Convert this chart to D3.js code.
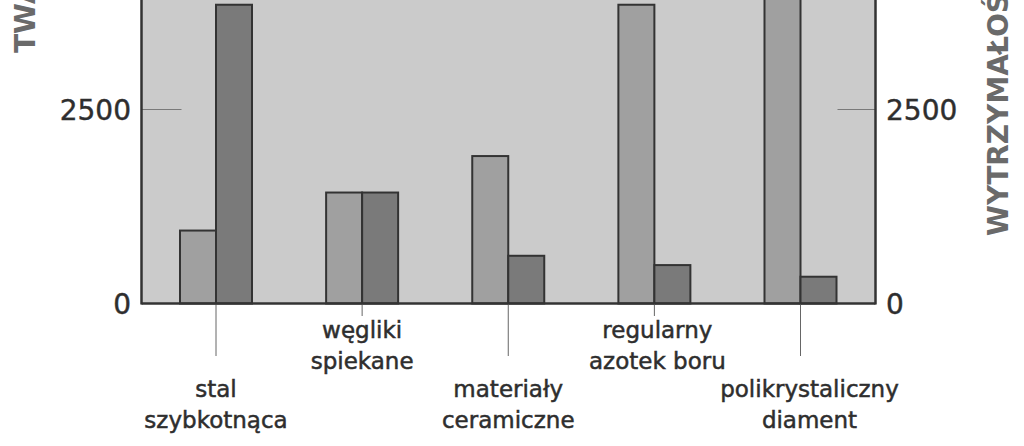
<!DOCTYPE html>
<html><head><meta charset="utf-8">
<script src="https://cdn.jsdelivr.net/npm/d3@7"></script>
<style>body{margin:0;background:#fff}svg{display:block}</style>
</head><body>
<script>
const categories = ["stal szybkotnąca","węgliki spiekane","materiały ceramiczne","regularny azotek boru","polikrystaliczny diament"];
const labelLines = [["stal","szybkotnąca"],["węgliki","spiekane"],["materiały","ceramiczne"],["regularny","azotek boru"],["polikrystaliczny","diament"]];
const hardness = [940, 1430, 1900, 3850, 8000];
const strength = [3850, 1430, 615, 495, 345];
const ticks = [0, 2500];
const leftTitle = "TWARDOŚĆ HV";
const rightTitle = "WYTRZYMAŁOŚĆ NA ZGINANIE";

const W = 1024, H = 446;
const x0 = 141.5, x1 = 875.5, yBase = 303.5;
const svg = d3.select("body").append("svg").attr("width", W).attr("height", H);

const y = d3.scaleLinear().domain([0, 2500]).range([yBase, 109.5]);
const x = d3.scalePoint().domain(categories).range([216, 800.5]);
const bw = 36;

// plot background
svg.append("rect").attr("x", x0).attr("y", y(9000)).attr("width", x1 - x0).attr("height", yBase - y(9000)).attr("fill", "#cbcbcb");

// inner ticks
ticks.filter(t => t > 0).forEach(t => {
  svg.append("line").attr("x1", x0).attr("x2", x0 + 40).attr("y1", y(t)).attr("y2", y(t)).attr("stroke", "#7a7a7a").attr("stroke-width", 1.2);
  svg.append("line").attr("x1", x1 - 38).attr("x2", x1).attr("y1", y(t)).attr("y2", y(t)).attr("stroke", "#7a7a7a").attr("stroke-width", 1.2);
});

// bars
const g = svg.append("g");
g.selectAll("rect.h").data(categories).enter().append("rect")
  .attr("x", d => x(d) - bw).attr("y", (d, i) => y(hardness[i]))
  .attr("width", bw).attr("height", (d, i) => yBase - y(hardness[i]))
  .attr("fill", "#a0a0a0").attr("stroke", "#333").attr("stroke-width", 2);
g.selectAll("rect.s").data(categories).enter().append("rect")
  .attr("x", d => x(d)).attr("y", (d, i) => y(strength[i]))
  .attr("width", bw).attr("height", (d, i) => yBase - y(strength[i]))
  .attr("fill", "#7a7a7a").attr("stroke", "#333").attr("stroke-width", 2);

// frame
svg.append("line").attr("x1", x0).attr("x2", x0).attr("y1", -10).attr("y2", yBase + 1).attr("stroke", "#333").attr("stroke-width", 2.5);
svg.append("line").attr("x1", x1).attr("x2", x1).attr("y1", -10).attr("y2", yBase + 1).attr("stroke", "#333").attr("stroke-width", 2.5);
svg.append("line").attr("x1", x0).attr("x2", x1).attr("y1", yBase).attr("y2", yBase).attr("stroke", "#333").attr("stroke-width", 2.5);

// category ticks below axis
categories.forEach((c, i) => {
  const long = i % 2 === 0;
  svg.append("line").attr("x1", x(c)).attr("x2", x(c)).attr("y1", yBase + 1).attr("y2", long ? 356 : 316)
    .attr("stroke", "#666").attr("stroke-width", 1);
});

// category labels
const labelOffsets = [0, 0, 0, 3, 9];
categories.forEach((c, i) => {
  const long = i % 2 === 0;
  const base = long ? 397 : 338;
  labelLines[i].forEach((ln, j) => {
    svg.append("text").attr("x", x(c) + labelOffsets[i]).attr("y", base + j * 31)
      .attr("text-anchor", "middle").attr("font-family", "DejaVu Sans").attr("font-size", 23)
      .attr("fill", "#2e2e2e").attr("stroke", "#2e2e2e").attr("stroke-width", 0.5).text(ln);
  });
});

// tick labels
ticks.forEach(t => {
  svg.append("text").attr("x", 131).attr("y", y(t)).attr("dy", "0.36em").attr("text-anchor", "end")
    .attr("font-family", "DejaVu Sans").attr("font-size", 28).attr("fill", "#2e2e2e").attr("stroke", "#2e2e2e").attr("stroke-width", 0.4).text(t);
  svg.append("text").attr("x", 886).attr("y", y(t)).attr("dy", "0.36em").attr("text-anchor", "start")
    .attr("font-family", "DejaVu Sans").attr("font-size", 28).attr("fill", "#2e2e2e").attr("stroke", "#2e2e2e").attr("stroke-width", 0.4).text(t);
});

// axis titles (cut off at the top edge, as in the reference)
svg.append("text").attr("transform", "translate(35,53) rotate(-90)")
  .attr("font-family", "DejaVu Sans").attr("font-weight", "bold").attr("font-size", 28)
  .attr("fill", "#6a6a6a").text(leftTitle);
svg.append("text").attr("transform", "translate(1008,236) rotate(-90)")
  .attr("font-family", "DejaVu Sans").attr("font-weight", "bold").attr("font-size", 28)
  .attr("fill", "#6a6a6a").text(rightTitle);
</script>
</body></html>
